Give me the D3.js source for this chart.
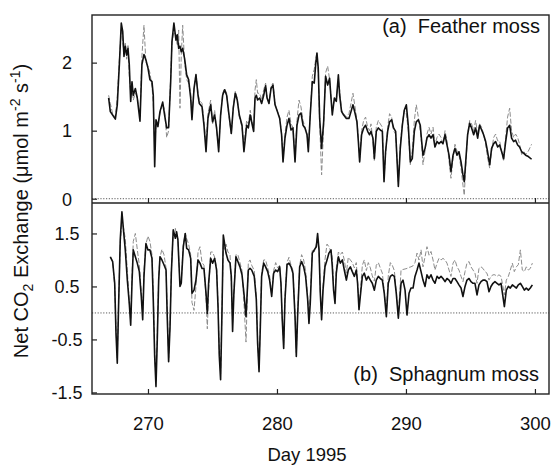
<!DOCTYPE html>
<html>
<head>
<meta charset="utf-8">
<script src="https://cdn.jsdelivr.net/npm/d3@7"></script>
<style>
    body { margin: 0; background: #fff; }
    svg { display: block; }
    text { font-family: "Liberation Sans", Arial, Helvetica, sans-serif; fill: #111; }
</style>
</head>
<body>
<svg id="chart" width="552" height="465"></svg>
<script>

// Tick values
const dayTicks = [270, 280, 290, 300];
const featherTicks = [0, 1, 2];
const sphagnumTicks = [-1.5, -0.5, 0.5, 1.5];

// (a) Feather moss: day, measured (solid), modelled (dashed)
const featherDays = [
    266.95,267.08,267.26,267.47,267.62,267.78,267.93,268.04,268.14,268.24,
    268.35,268.45,268.55,268.66,268.76,268.86,269.02,269.17,269.38,269.53,
    269.69,269.84,270.0,270.15,270.31,270.41,270.52,270.62,270.77,270.93,
    271.14,271.29,271.45,271.6,271.76,271.86,272.01,272.17,272.27,272.38,
    272.48,272.58,272.69,272.84,273.0,273.15,273.31,273.41,273.57,273.72,
    273.88,273.98,274.19,274.34,274.5,274.65,274.86,275.01,275.17,275.32,
    275.48,275.63,275.79,275.94,276.1,276.25,276.46,276.61,276.77,276.92,
    277.08,277.29,277.44,
    277.65,277.78,277.93,278.09,278.19,278.3,278.4,278.5,278.66,278.81,
    278.97,279.12,279.23,279.38,279.54,279.69,279.85,280.0,280.21,280.36,
    280.47,280.62,280.78,280.93,281.09,281.24,281.4,281.55,281.71,281.86,
    282.02,282.17,282.33,282.43,282.58,282.74,282.89,283.0,283.1,283.2,
    283.31,283.46,283.62,283.77,283.93,284.08,284.19,284.29,284.45,284.6,
    284.76,284.86,285.01,285.17,285.38,285.58,285.74,285.89,286.05,286.2,
    286.31,286.41,286.56,286.72,286.87,287.03,287.18,287.29,287.44,287.55,
    287.7,287.86,288.01,288.17,288.3,288.42,288.58,288.73,288.89,289.04,
    289.2,
    289.41,289.56,289.72,289.87,290.03,290.18,290.34,290.49,290.65,290.8,
    290.96,291.11,291.22,291.32,291.48,291.63,291.79,291.94,292.1,292.25,
    292.41,292.56,292.72,292.87,293.03,293.18,293.34,293.49,293.65,293.8,
    293.96,294.11,294.27,294.42,294.52,294.63,294.78,294.94,295.09,295.25,
    295.4,295.56,295.71,295.87,296.02,296.18,296.33,296.49,296.64,296.8,
    296.95,297.11,297.26,297.42,297.57,297.73,297.88,298.04,298.19,298.35,
    298.5,298.66,298.81,298.97,299.12,299.28,299.49,299.74
];
const featherMeasured = [
    1.48,1.28,1.23,1.17,1.38,1.97,2.58,2.46,2.09,2.24,
    2.11,2.21,1.97,1.43,1.72,1.52,1.62,1.48,1.14,1.97,
    2.12,2.04,1.92,1.75,1.72,1.52,0.47,1.16,1.06,1.28,
    1.42,1.23,1.04,1.05,1.72,2.31,2.58,2.33,2.41,2.21,
    2.24,2.16,2.21,2.06,1.82,1.75,1.48,1.16,1.62,1.82,
    1.52,1.40,1.35,1.08,0.69,1.18,1.38,1.13,1.23,1.04,
    0.69,1.23,1.52,1.60,1.52,1.28,0.96,1.33,1.55,1.45,
    1.23,1.08,0.69,
    1.08,1.04,1.23,1.08,0.99,1.48,1.52,1.45,1.48,1.40,
    1.52,1.66,1.48,1.40,1.62,1.67,1.38,1.30,1.18,0.94,
    0.54,0.89,1.08,1.18,1.01,1.04,0.54,1.08,1.23,1.26,
    1.08,1.04,0.94,0.69,1.23,1.72,1.70,1.97,2.14,1.92,
    1.18,0.74,1.13,1.80,1.67,1.77,1.48,1.23,1.48,1.43,
    1.82,1.52,1.28,1.23,1.18,1.18,1.28,1.38,1.26,1.13,
    0.84,0.54,0.94,1.04,1.08,0.99,0.94,0.99,0.89,0.59,
    0.99,1.04,1.01,0.99,0.25,0.69,0.99,1.13,1.16,1.04,
    0.99,
    0.18,0.74,1.08,1.30,1.38,1.08,0.54,0.59,0.99,1.13,
    1.16,1.08,0.84,0.64,0.74,0.89,0.94,0.89,0.94,0.76,
    0.84,0.81,0.84,0.81,0.94,0.79,0.64,0.40,0.64,0.74,
    0.64,0.69,0.54,0.35,0.25,0.54,0.94,1.11,1.04,0.94,
    1.04,0.89,1.08,1.01,0.94,0.84,0.69,0.50,0.74,0.81,
    0.84,0.76,0.79,0.69,0.59,0.84,1.04,1.08,0.89,0.84,
    0.86,0.79,0.76,0.69,0.67,0.64,0.62,0.58
];
const featherModelled = [
    1.52,1.40,1.25,1.20,1.50,2.05,2.50,2.30,2.15,2.30,
    2.05,2.25,1.80,1.55,1.65,1.45,1.55,1.50,1.20,2.10,
    2.55,2.00,1.95,1.85,1.65,1.40,0.80,1.05,1.10,1.25,
    1.40,1.30,0.90,1.00,1.80,2.30,2.45,2.40,2.25,2.48,
    1.33,2.10,2.55,2.00,1.75,1.70,1.55,1.25,1.60,1.85,
    1.55,1.45,1.40,1.15,0.80,1.25,1.45,1.10,1.30,1.00,
    0.75,1.20,1.55,1.62,1.55,1.25,0.95,1.35,1.58,1.48,
    1.20,1.05,0.80,
    1.15,1.10,1.30,1.10,1.00,1.60,1.75,1.55,1.55,1.45,
    1.60,1.70,1.50,1.40,1.65,1.70,1.40,1.30,1.20,0.95,
    0.60,0.95,1.20,1.30,1.10,1.05,0.60,1.15,1.45,1.35,
    1.15,1.05,0.95,0.75,1.25,1.80,1.90,2.05,2.15,1.85,
    1.10,0.35,1.05,1.85,1.95,1.75,1.50,1.30,1.45,1.45,
    1.75,1.60,1.30,1.25,1.20,1.25,1.40,1.55,1.35,1.15,
    0.90,0.55,1.00,1.15,1.20,1.05,1.00,1.10,0.85,0.55,
    1.05,1.15,1.10,1.05,0.30,0.65,1.05,1.25,1.20,1.00,
    0.95,
    0.25,0.80,1.10,1.30,1.25,1.00,0.50,0.70,1.15,1.38,
    1.20,1.00,0.80,0.50,0.70,0.95,1.05,0.95,1.05,0.80,
    0.90,0.95,0.90,0.80,1.00,0.85,0.55,0.30,0.60,0.80,
    0.70,0.65,0.45,0.20,0.05,0.45,0.95,1.15,1.10,1.00,
    1.15,0.95,1.10,1.05,0.95,0.80,0.60,0.45,0.70,0.90,
    0.95,0.85,0.85,0.70,0.55,0.90,1.20,1.33,1.00,0.90,
    0.95,0.90,0.80,0.65,0.70,0.65,0.70,0.80
];

// (b) Sphagnum moss: day, measured (solid), modelled (dashed)
const sphagnumDays = [
    267.08,267.26,267.42,267.52,267.62,267.72,267.85,267.98,268.11,268.24,
    268.4,268.55,268.66,268.76,268.86,269.02,269.17,269.33,269.48,269.59,
    269.69,269.84,270.0,270.15,270.31,270.41,270.52,270.62,270.72,270.83,
    270.93,271.08,271.24,271.4,271.5,271.6,271.71,271.81,271.96,272.12,
    272.22,272.32,272.48,272.58,272.74,272.89,273.0,273.15,273.31,273.41,
    273.57,273.72,273.88,274.03,274.19,274.34,274.5,274.6,274.7,274.86,
    275.01,275.17,275.32,275.43,275.53,275.63,275.74,275.84,275.94,276.05,
    276.2,276.36,276.46,276.56,276.66,276.82,276.97,277.13,277.29,277.44,
    277.6,
    277.78,277.91,278.04,278.24,278.4,278.5,278.61,278.71,278.81,278.97,
    279.12,279.28,279.43,279.59,279.74,279.9,280.05,280.21,280.31,280.41,
    280.52,280.62,280.78,280.93,281.09,281.24,281.4,281.5,281.6,281.76,
    281.91,282.07,282.22,282.38,282.48,282.58,282.74,282.89,283.05,283.15,
    283.26,283.36,283.46,283.57,283.72,283.88,284.03,284.19,284.29,284.39,
    284.5,284.6,284.76,284.91,285.07,285.22,285.38,285.53,285.69,285.84,
    286.0,286.15,286.25,286.36,286.46,286.62,286.77,286.93,287.08,287.24,
    287.39,287.55,287.7,287.86,288.01,288.17,288.32,288.48,288.63,288.79,
    288.94,289.1,289.25,289.41,
    289.62,289.77,289.93,290.08,290.24,290.39,290.55,290.7,290.86,291.01,
    291.17,291.32,291.48,291.63,291.79,291.94,292.1,292.25,292.41,292.56,
    292.72,292.87,293.03,293.18,293.34,293.49,293.65,293.8,293.96,294.11,
    294.27,294.42,294.58,294.73,294.89,295.04,295.2,295.35,295.51,295.66,
    295.82,295.97,296.13,296.28,296.44,296.59,296.75,296.9,297.06,297.21,
    297.37,297.52,297.63,297.78,297.94,298.09,298.25,298.4,298.56,298.71,
    298.87,299.02,299.18,299.33,299.49,299.64,299.8
];
const sphagnumMeasured = [
    1.06,0.97,0.56,-0.38,-0.95,0.12,1.38,1.91,1.54,1.19,
    0.62,0.18,-0.23,0.56,1.19,1.06,0.94,0.78,0.31,-0.13,
    0.69,1.31,1.19,1.19,1.03,0.25,-0.82,-1.39,-0.51,0.62,
    1.06,1.00,0.91,0.81,-0.13,-0.92,-0.26,0.75,1.57,1.41,
    1.53,1.38,0.50,0.56,1.25,1.50,1.22,1.19,1.03,0.37,
    0.43,0.62,1.00,0.94,0.84,0.84,0.37,-0.01,0.56,1.03,
    0.94,1.03,0.81,0.12,-0.82,-1.26,0.06,1.47,1.31,1.13,
    1.00,0.94,0.69,-0.35,0.37,1.06,0.97,0.87,0.72,0.37,
    -0.07,
    0.81,0.84,0.81,0.69,0.25,-0.57,-1.11,-0.26,0.69,0.94,
    0.87,0.78,0.62,0.31,0.75,0.81,0.78,0.87,0.56,-0.13,
    -0.67,0.25,0.91,0.94,0.87,0.75,-0.07,-0.82,-0.07,0.87,
    0.97,0.87,0.69,0.25,-0.20,0.18,1.13,1.19,1.25,1.50,
    1.19,0.37,-0.13,0.43,0.87,1.00,1.13,1.19,0.87,0.43,
    0.18,0.75,1.06,0.94,1.00,0.81,0.62,0.81,0.87,0.78,
    0.69,0.81,0.56,0.06,0.31,0.69,0.75,0.62,0.69,0.62,
    0.56,0.43,0.62,0.69,0.65,0.62,0.37,-0.07,0.56,0.69,
    0.72,0.69,0.37,-0.10,
    0.56,0.62,0.43,-0.04,0.37,0.47,0.47,0.69,0.81,0.94,
    0.78,0.62,0.50,0.72,0.65,0.72,0.62,0.56,0.69,0.65,
    0.69,0.65,0.59,0.65,0.62,0.56,0.65,0.65,0.59,0.53,
    0.47,0.31,0.50,0.62,0.65,0.59,0.56,0.56,0.34,0.53,
    0.59,0.62,0.62,0.59,0.40,0.50,0.56,0.59,0.56,0.53,
    0.56,0.31,0.12,0.43,0.50,0.47,0.53,0.50,0.47,0.53,
    0.56,0.50,0.43,0.47,0.43,0.47,0.53
];
const sphagnumModelled = [
    1.06,0.97,0.50,-0.30,-0.85,0.20,1.30,1.75,1.60,1.40,
    0.80,0.20,-0.10,0.70,1.35,1.50,1.20,0.90,0.40,0.00,
    0.80,1.30,1.45,1.35,1.10,0.40,-0.70,-1.30,-0.40,0.70,
    1.05,1.20,1.10,0.85,0.00,-0.85,-0.20,0.80,1.55,1.60,
    1.45,1.40,0.55,0.60,1.30,1.50,1.40,1.30,1.10,0.20,
    0.05,0.50,1.15,1.25,0.95,0.90,0.30,-0.30,0.40,1.15,
    1.15,1.05,0.85,0.20,-0.75,-1.15,0.10,1.30,1.20,1.30,
    1.15,1.10,0.60,-0.20,0.40,1.10,1.10,0.95,0.80,0.20,
    -0.55,
    0.95,1.00,0.90,0.80,0.30,-0.50,-1.05,-0.20,0.75,1.00,
    1.00,0.85,0.70,0.35,0.80,0.95,0.85,0.90,0.55,-0.10,
    -0.60,0.30,0.95,1.05,0.90,0.80,0.00,-0.75,0.00,0.90,
    1.10,1.00,0.80,0.30,0.00,0.30,1.20,1.15,1.30,1.45,
    1.20,0.40,-0.05,0.50,1.00,1.30,1.25,1.15,1.05,0.50,
    0.30,0.85,1.15,1.10,1.15,1.00,0.75,1.05,1.00,0.95,
    0.85,0.95,0.60,0.10,0.40,0.90,1.00,0.80,0.95,0.85,
    0.70,0.60,0.90,0.95,0.85,0.75,0.40,0.00,0.70,0.95,
    0.90,0.80,0.40,-0.05,
    0.81,0.82,0.83,0.84,0.86,0.87,0.89,0.95,1.13,1.00,
    1.19,0.87,1.06,1.25,1.09,1.16,1.00,0.81,0.94,1.03,
    1.00,1.03,1.00,0.94,0.81,0.69,0.94,1.00,0.87,0.81,
    0.69,0.59,0.78,0.94,0.97,0.87,0.81,0.75,0.56,0.84,
    0.87,0.84,0.78,0.75,0.62,0.69,0.72,0.72,0.69,0.72,
    0.69,0.50,0.34,0.62,0.69,0.81,0.94,0.78,0.87,0.91,
    1.19,0.81,0.78,0.87,0.81,0.84,0.94
];

// Layout
const plotLeft = 92, plotRight = 549;
const topA = 15, splitY = 203, bottomB = 394;

const svg = d3.select("#chart");

const x = d3.scaleLinear().domain([265.66, 301.09]).range([plotLeft, plotRight]);
const yA = d3.scaleLinear().domain([-0.063, 2.70]).range([splitY, topA]);
const yB = d3.scaleLinear().domain([-1.53, 2.075]).range([bottomB, splitY]);

// Draws one panel (lines, zero line, inward ticks)
function drawPanel(y, days, measured, modelled, ticks, bottomY, showDayLabels) {

    let g = svg.append("g");

    // Zero reference
    g.append("line")
        .attr("x1", plotLeft)
        .attr("x2", plotRight)
        .attr("y1", y(0))
        .attr("y2", y(0))
        .attr("stroke", "#333")
        .attr("stroke-width", 0.8)
        .attr("stroke-dasharray", "1.2,1.6")

    let line = d3.line()
        .x(i => x(days[i]))

    // Modelled (dashed grey)
    g.append("path")
        .attr("d", line.y(i => y(modelled[i]))(d3.range(days.length)))
        .attr("fill", "none")
        .attr("stroke", "#8c8c8c")
        .attr("stroke-width", 1)
        .attr("stroke-dasharray", "5,2")

    // Measured (solid black)
    g.append("path")
        .attr("d", line.y(i => y(measured[i]))(d3.range(days.length)))
        .attr("fill", "none")
        .attr("stroke", "#111")
        .attr("stroke-width", 1.6)
        .attr("stroke-linejoin", "round")

    // Y axis, ticks pointing inward, labels centered
    let yAxis = g.append("g")
        .attr("transform", "translate(" + plotLeft + ",0)")
        .call(d3.axisLeft(y).tickValues(ticks).tickSize(-5).tickFormat(d => String(d)))
    yAxis.select(".domain").remove()
    yAxis.selectAll("line").attr("stroke", "#222").attr("stroke-width", 1.2)
    yAxis.selectAll("text")
        .attr("x", -25)
        .attr("dy", "0.35em")
        .attr("text-anchor", "middle")
        .style("font-size", "18px")
        .style("font-family", "'Liberation Sans', Arial, sans-serif")
        .attr("fill", "#111")

    // X axis ticks at panel bottom
    let xAxis = g.append("g")
        .attr("transform", "translate(0," + bottomY + ")")
        .call(d3.axisBottom(x).tickValues(dayTicks).tickSize(-5)
            .tickFormat(showDayLabels ? (d => String(d)) : ""))
    xAxis.select(".domain").remove()
    xAxis.selectAll("line").attr("stroke", "#222").attr("stroke-width", 1.2)
    xAxis.selectAll("text")
        .attr("y", 36)
        .attr("dy", 0)
        .style("font-size", "18.5px")
        .style("font-family", "'Liberation Sans', Arial, sans-serif")
        .attr("fill", "#111")
}

drawPanel(yA, featherDays, featherMeasured, featherModelled, featherTicks, splitY, false);
drawPanel(yB, sphagnumDays, sphagnumMeasured, sphagnumModelled, sphagnumTicks, bottomB, true);

// Frame
svg.append("rect")
    .attr("x", plotLeft)
    .attr("y", topA)
    .attr("width", plotRight - plotLeft)
    .attr("height", bottomB - topA)
    .attr("fill", "none")
    .attr("stroke", "#222")
    .attr("stroke-width", 1.4)

svg.append("line")
    .attr("x1", plotLeft)
    .attr("x2", plotRight)
    .attr("y1", splitY)
    .attr("y2", splitY)
    .attr("stroke", "#222")
    .attr("stroke-width", 1.6)

// Panel labels
svg.append("text")
    .attr("x", 540)
    .attr("y", 33)
    .attr("text-anchor", "end")
    .style("font-size", "20px")
    .attr("xml:space", "preserve")
    .text("(a)  Feather moss")

svg.append("text")
    .attr("x", 539)
    .attr("y", 381)
    .attr("text-anchor", "end")
    .style("font-size", "20px")
    .attr("xml:space", "preserve")
    .text("(b)  Sphagnum moss")

// X title
svg.append("text")
    .attr("x", 307)
    .attr("y", 461)
    .attr("text-anchor", "middle")
    .style("font-size", "18.5px")
    .text("Day 1995")

// Y title with sub/superscripts
let yTitle = svg.append("text")
    .attr("transform", "translate(28,211) rotate(-90)")
    .attr("text-anchor", "middle")
    .style("font-size", "20px")

yTitle.append("tspan").text("Net CO")
yTitle.append("tspan").attr("dy", 5).style("font-size", "14px").text("2")
yTitle.append("tspan").attr("dy", -5).text(" Exchange (\u03bcmol m")
yTitle.append("tspan").attr("dy", -8).style("font-size", "14px").text("-2")
yTitle.append("tspan").attr("dy", 8).text(" s")
yTitle.append("tspan").attr("dy", -8).style("font-size", "14px").text("-1")
yTitle.append("tspan").attr("dy", 8).text(")")

</script>
</body>
</html>
